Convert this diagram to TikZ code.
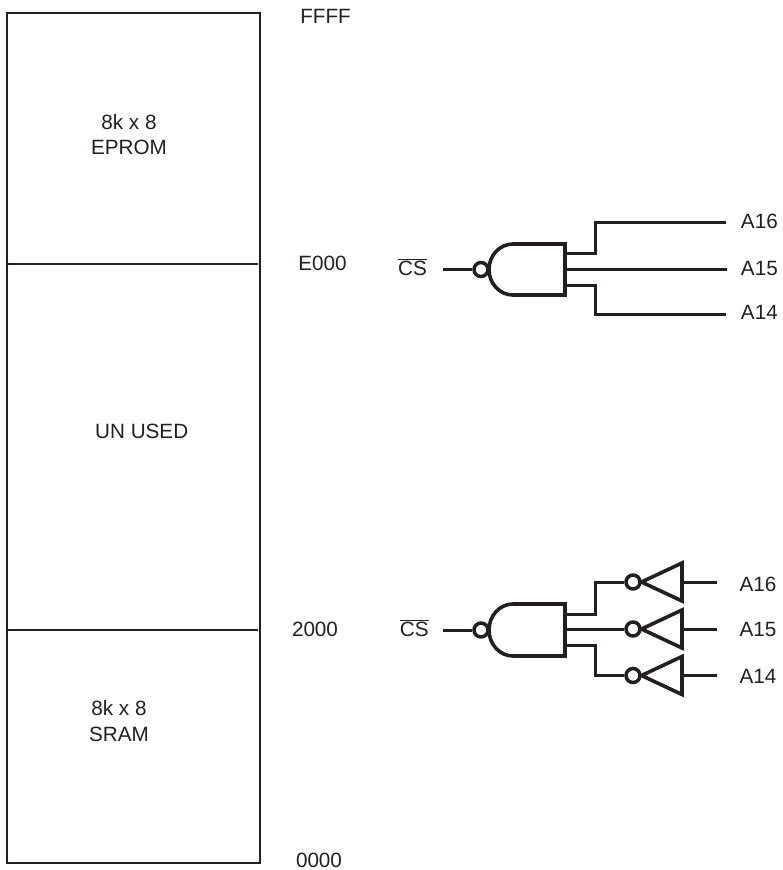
\documentclass[tikz,border=0pt]{standalone}
\usepackage{fontspec}
\setmainfont{Liberation Sans}
\definecolor{ink}{HTML}{231F20}
\tikzset{
  x=0.75pt,y=-0.75pt,
  lbl/.style={font=\fontsize{15.5}{19}\selectfont,text=ink,inner sep=0pt,align=center},
  frameline/.style={draw=ink,line width=1.5pt},
  divline/.style={draw=ink,line width=1.5pt},
  wire/.style={draw=ink,line width=2.1pt},
  gatebody/.style={draw=ink,line width=2.7pt,line join=miter},
  bubble/.style={circle,draw=ink,line width=2.6pt,minimum size=10.5pt,inner sep=0pt,fill=white},
}
\newcommand{\csbar}{$\overline{\hbox{CS}}$}
\begin{document}
\begin{tikzpicture}
\useasboundingbox (0,0) rectangle (782,870);
% memory map
\draw[frameline] (7,13) rectangle (260,863);
\coordinate (mL1) at (8,264); \coordinate (mR1) at (257.7,264);
\coordinate (mL2) at (8,630); \coordinate (mR2) at (257.7,630);
\draw[divline] (mL1) -- (mR1);
\draw[divline] (mL2) -- (mR2);
\node[lbl] (eprom) at (129,134.3) {8k x 8\\EPROM};
\node[lbl] (unused) at (141.7,431) {UN USED};
\node[lbl] (sram) at (119,721) {8k x 8\\SRAM};
\node[lbl] (ffff) at (325.6,16.7) {FFFF};
\node[lbl] (e000) at (322.5,263.7) {E000};
\node[lbl] (a2000) at (315,629) {2000};
\node[lbl] (a0000) at (319,860.3) {0000};
% gate 1
\draw[gatebody] (513,244) -- (565,244) -- (565,295) -- (513,295) arc[start angle=90,end angle=270,x radius=24,y radius=25.5];
\node[bubble] (b1) at (481,269.5) {};
\node[lbl] (cs1) at (412.5,267) {\csbar};
\coordinate (c1) at (443,269.5);
\draw[wire] (c1) -- (b1);
\coordinate (g1a) at (565,253.5); \coordinate (g1b) at (565,269.5); \coordinate (g1c) at (565,285.5);
\node[lbl,anchor=west] (a161) at (740.7,221) {A16};
\node[lbl,anchor=west] (a151) at (740.7,268) {A15};
\node[lbl,anchor=west] (a141) at (740.7,312) {A14};
\coordinate (e1a) at (726,222.5); \coordinate (e1b) at (727,269.5); \coordinate (e1c) at (726,314.5);
\draw[wire] (g1a) -| (595.5,222.5) -- (e1a);
\draw[wire] (g1b) -- (e1b);
\draw[wire] (g1c) -| (595.5,314.5) -- (e1c);
% gate 2
\draw[gatebody] (513,604) -- (565,604) -- (565,656) -- (513,656) arc[start angle=90,end angle=270,x radius=24,y radius=26];
\node[bubble] (b2) at (481,630) {};
\node[lbl] (cs2) at (414.2,628) {\csbar};
\coordinate (c2) at (443,630.5);
\draw[wire] (c2) -- (b2.west |- c2);
\coordinate (g2a) at (565,614.5); \coordinate (g2b) at (565,629.5); \coordinate (g2c) at (565,645.5);
% inverters
\draw[gatebody] (641.5,582) -- (682,563) -- (682,601) -- cycle;
\draw[gatebody] (641.5,629) -- (682,610) -- (682,648) -- cycle;
\draw[gatebody] (641.5,675.5) -- (682,656.5) -- (682,694.5) -- cycle;
\node[bubble] (i1) at (633,582) {};
\node[bubble] (i2) at (633,629) {};
\node[bubble] (i3) at (633,675.5) {};
\coordinate (j1) at (595.5,582.5); \coordinate (j3) at (595.5,675.5);
\draw[wire] (g2a) -| (j1) -- (i1.west |- j1);
\draw[wire] (g2b) -- (i2.west |- g2b);
\draw[wire] (g2c) -| (j3) -- (i3);
\node[lbl,anchor=west] (a162) at (739.3,584) {A16};
\node[lbl,anchor=west] (a152) at (739.3,629.7) {A15};
\node[lbl,anchor=west] (a142) at (739.3,676) {A14};
\coordinate (t1) at (682,582.5); \coordinate (t2) at (682,629.5); \coordinate (t3) at (682,675.5);
\coordinate (o1) at (717,582.5); \coordinate (o2) at (717,629.5); \coordinate (o3) at (717,675.5);
\draw[wire] (t1) -- (o1);
\draw[wire] (t2) -- (o2);
\draw[wire] (t3) -- (o3);
\end{tikzpicture}
\end{document}
